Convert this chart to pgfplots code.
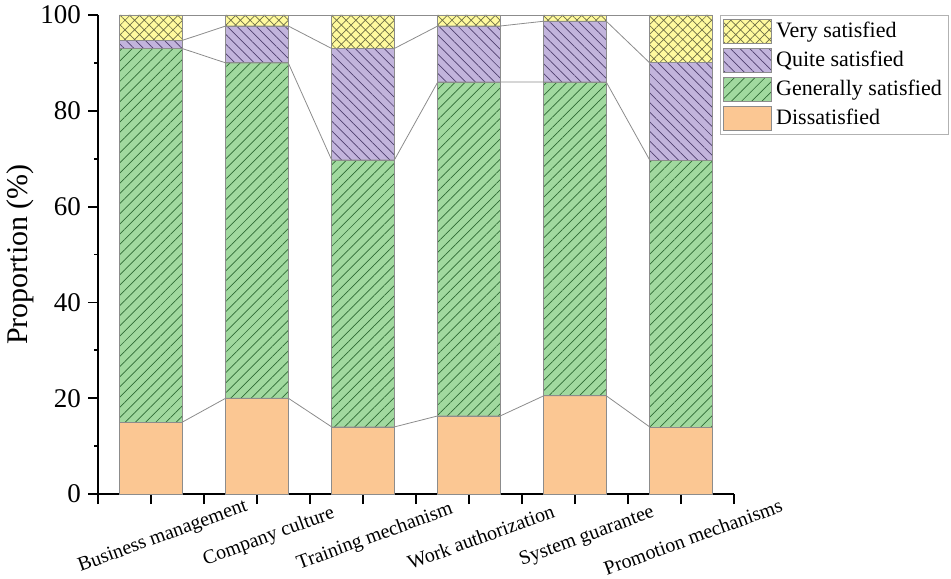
\documentclass[border=0pt]{standalone}
\usepackage{fontspec}
\setmainfont{Liberation Serif}
\usepackage{pgfplots}
\pgfplotsset{compat=1.18}
\usetikzlibrary{patterns.meta}
\definecolor{cvery}{HTML}{FFFA9E}
\definecolor{cquite}{HTML}{C2B4DC}
\definecolor{cgen}{HTML}{A1D99F}
\definecolor{cdis}{HTML}{FBC793}
\definecolor{hvery}{HTML}{6E6E46}
\definecolor{hquite}{HTML}{4F3F6E}
\definecolor{hgen}{HTML}{2F6B35}
\definecolor{edge}{HTML}{8C8C8C}
\begin{document}
\begin{tikzpicture}
\begin{axis}[
  scale only axis,
  width=318pt, height=239.5pt,
  xmin=0.5, xmax=6.5, ymin=0, ymax=100,
  axis lines=left,
  axis line style={-, line width=0.9pt, black},
  ybar stacked,
  bar width=0.59,
  xtick={1,2,3,4,5,6},
  xticklabels={Business management,Company culture,Training mechanism,Work authorization,System guarantee,Promotion mechanisms},
  extra x ticks={0.5,1.5,2.5,3.5,4.5,5.5,6.5},
  extra x tick labels={},
  extra x tick style={major tick length=5pt},
  ytick={0,20,40,60,80,100},
  minor y tick num=1,
  tick align=outside,
  major tick length=5pt,
  minor tick length=2pt,
  tick style={line width=0.9pt, black},
  tick label style={font=\fontsize{13.5}{14}\selectfont},
  /pgf/number format/assume math mode=true,
  xticklabel style={font=\fontsize{10}{11}\selectfont, rotate=20, anchor=center, yshift=-17.5pt},
  ylabel={Proportion (\%)},
  ylabel style={font=\fontsize{15}{16}\selectfont, at={(axis description cs:-0.122,0.5)}, anchor=center, rotate=0},
  reverse legend,
  legend cell align=left,
  legend style={at={(0.978,1)}, anchor=north west, draw=gray!60, font=\fontsize{11}{12}\selectfont, inner xsep=1.5pt, inner ysep=1.5pt, row sep=1.2pt, /tikz/every even column/.append style={column sep=1pt}},
  legend image code/.code={\draw[#1] (0pt,-6pt) rectangle (24pt,6pt);},
]
\addplot[fill=cdis, draw=edge, line width=0.4pt] coordinates {(1,15) (2,20) (3,14) (4,16.3) (5,20.5) (6,14)};
\addlegendentry{Dissatisfied}
\addplot[fill=cgen, draw=edge, line width=0.4pt, postaction={pattern={Lines[angle=45,distance=3.6pt,line width=0.35pt]}, pattern color=hgen}] coordinates {(1,78) (2,70) (3,55.7) (4,69.7) (5,65.5) (6,55.7)};
\addlegendentry{Generally satisfied}
\addplot[fill=cquite, draw=edge, line width=0.4pt, postaction={pattern={Lines[angle=-45,distance=3.4pt,line width=0.35pt]}, pattern color=hquite}] coordinates {(1,1.7) (2,7.7) (3,23.3) (4,11.7) (5,12.7) (6,20.3)};
\addlegendentry{Quite satisfied}
\addplot[fill=cvery, draw=edge, line width=0.4pt, postaction={pattern={Hatch[angle=45,distance=3.4pt,line width=0.35pt]}, pattern color=hvery}] coordinates {(1,5.3) (2,2.3) (3,7) (4,2.3) (5,1.3) (6,10)};
\addlegendentry{Very satisfied}
\end{axis}
\begin{axis}[
  scale only axis,
  width=318pt, height=239.5pt,
  xmin=0.5, xmax=6.5, ymin=0, ymax=100,
  axis lines=none,
]
\addplot[edge, line width=0.4pt] coordinates {(1.295,15) (1.705,20) (2.295,20) (2.705,14) (3.295,14) (3.705,16.3) (4.295,16.3) (4.705,20.5) (5.295,20.5) (5.705,14)};
\addplot[edge, line width=0.4pt] coordinates {(1.295,93) (1.705,90) (2.295,90) (2.705,69.7) (3.295,69.7) (3.705,86) (4.295,86) (4.705,86) (5.295,86) (5.705,69.7)};
\addplot[edge, line width=0.4pt] coordinates {(1.295,94.7) (1.705,97.7) (2.295,97.7) (2.705,93) (3.295,93) (3.705,97.7) (4.295,97.7) (4.705,98.7) (5.295,98.7) (5.705,90)};
\addplot[edge, line width=0.4pt] coordinates {(0.705,100) (6.295,100)};
\end{axis}
\pgfresetboundingbox
\useasboundingbox (-49pt,-42pt) rectangle (426.5pt,247pt);
\end{tikzpicture}
\end{document}
